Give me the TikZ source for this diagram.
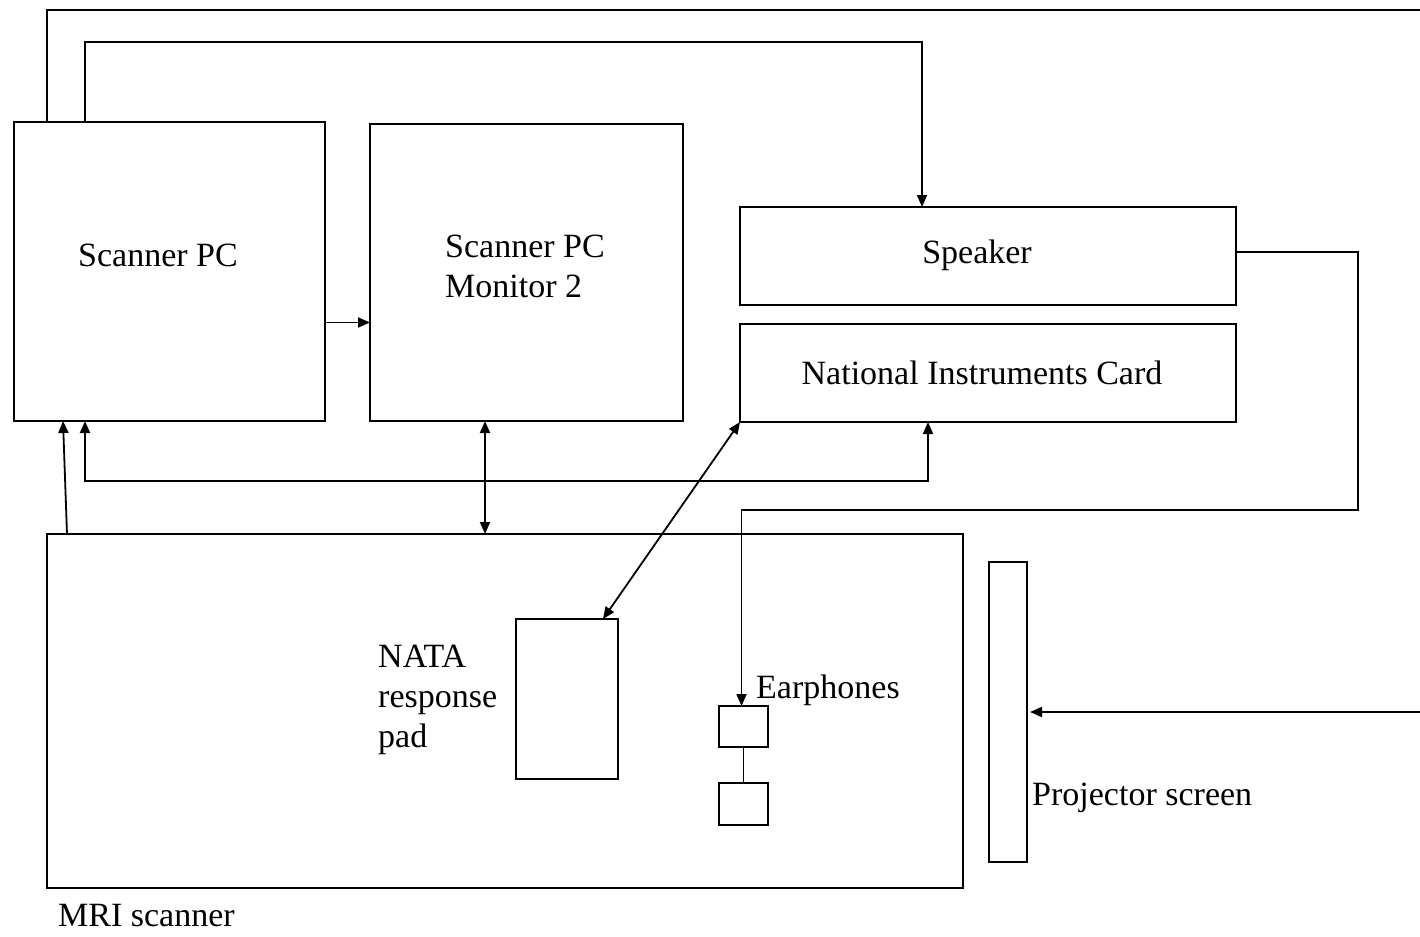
\documentclass[tikz,border=0pt]{standalone}
\usepackage{fontspec}
\setmainfont{Liberation Serif}
\usetikzlibrary{arrows.meta,calc}

\tikzset{
  box/.style={draw, line width=2pt, inner sep=0pt, outer sep=0pt},
  lbl/.style={inner sep=0pt, font=\fontsize{34}{40}\selectfont},
  link/.style={line width=1.8pt},
  arr/.style={link, -{Triangle[length=12pt,width=10pt]}},
  biarr/.style={link, {Triangle[length=12pt,width=10pt]}-{Triangle[length=12pt,width=10pt]}},
}

\begin{document}
\begin{tikzpicture}[x=1pt, y=-1pt]
\useasboundingbox (0,0) rectangle (1420,936);

% equipment boxes
\node[box, minimum width=311pt, minimum height=299pt] (spc) at (169.5,271.5) {};
\node[box, minimum width=313pt, minimum height=297pt] (mon) at (526.5,272.5) {};
\node[box, minimum width=496pt, minimum height=98pt] (spk) at (988,256) {};
\node[box, minimum width=496pt, minimum height=98pt] (ni) at (988,373) {};
\node[box, minimum width=916pt, minimum height=354pt] (mri) at (505,711) {};
\node[box, minimum width=102pt, minimum height=160pt] (pad) at (567,699) {};
\node[box, minimum width=49pt, minimum height=41pt] (ep1) at (743.5,726.5) {};
\node[box, minimum width=49pt, minimum height=42pt] (ep2) at (743.5,804) {};
\node[box, minimum width=38pt, minimum height=300pt] (scr) at (1008,712) {};

% labels
\node[lbl] (tspc) at (158,255) {Scanner PC};
\node[lbl, anchor=west, align=left] (tmon) at (445,266) {Scanner PC\\Monitor 2};
\node[lbl] (tspk) at (977,255) {Speaker};
\node[lbl] (tni) at (982,373) {National Instruments Card};
\node[lbl, anchor=west, align=left] (tpad) at (378,700) {NATA\\response\\pad};
\node[lbl, anchor=west] (tep) at (756,690) {Earphones};
\node[lbl, anchor=west] (tscr) at (1032,798) {Projector screen};
\node[lbl, anchor=west] (tmri) at (58,916) {MRI scanner};

% free ends and bends
\coordinate (topend) at (1420,10);
\coordinate (bend42) at (85,42);
\coordinate (bend481) at (500,481);
\coordinate (bend510) at (1358,510);
\coordinate (projsrc) at (1420,712);

% connectors
\draw[link] ([xshift=33pt]spc.north west) |- (topend);
\draw[arr] ([xshift=71pt]spc.north west) |- (bend42) -| ([xshift=182pt]spk.north west);
\draw[arr] ([yshift=-51pt]spc.east) -- ([yshift=-51pt]spc.east -| mon.west);
\draw[arr] ([xshift=20pt]mri.north west) -- ([xshift=49pt]spc.south west);
\draw[biarr] ([xshift=71pt]spc.south west) |- (bend481) -| ([xshift=188pt]ni.south west);
\draw[biarr] ([xshift=115pt]mon.south west) -- ([xshift=438pt]mri.north west);
\draw[biarr] (ni.south west) -- ([xshift=87pt]pad.north west);
\draw[arr] ([yshift=4pt]spk.east) -| (bend510) -| ([xshift=-2pt]ep1.north);
\draw[link] (ep1.south) -- (ep2.north);
\draw[arr] (projsrc) -- ([xshift=3pt]scr.east);
\end{tikzpicture}
\end{document}
